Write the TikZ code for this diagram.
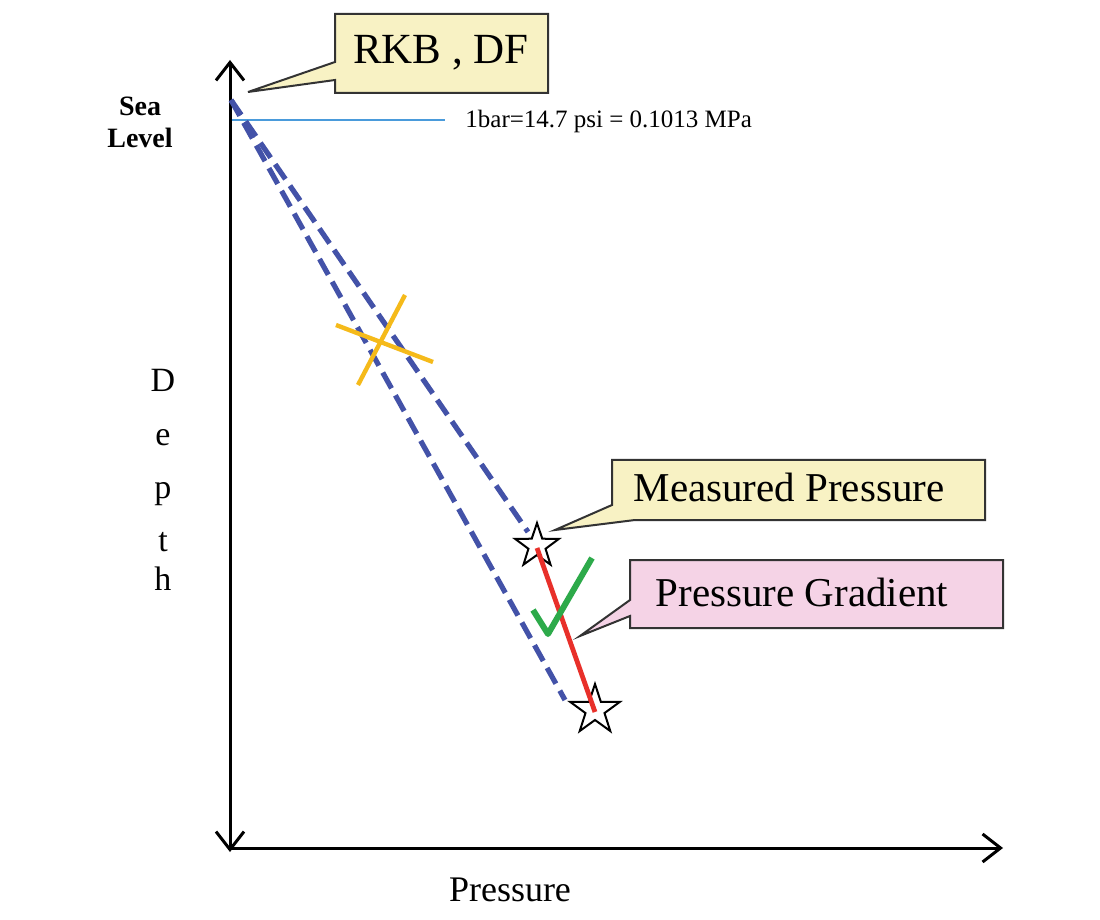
\documentclass[tikz,border=0pt]{standalone}
\usepackage{fontspec}
\setmainfont{Liberation Serif}
\usetikzlibrary{arrows.meta}
\definecolor{cyel}{HTML}{F8F2C4}
\definecolor{cpink}{HTML}{F5D3E6}
\definecolor{cblue}{HTML}{4352A8}
\definecolor{cthin}{HTML}{4A9BDB}
\definecolor{corange}{HTML}{F5BA1A}
\definecolor{cgreen}{HTML}{2DAA4A}
\definecolor{cred}{HTML}{E8302A}
\tikzset{
  callout/.style={draw=black!80, line width=1pt},
  lbl/.style={inner sep=0pt, anchor=center},
  dashline/.style={cblue, line width=2.6pt, dash pattern=on 9pt off 4pt},
  axis/.style={line width=1.5pt, -{Straight Barb[length=9pt,width=14pt]}},
  startip/.style={draw=black, fill=white, line width=1pt},
}
\begin{document}
\begin{tikzpicture}[x=0.5pt,y=-0.5pt]
\useasboundingbox (0,0) rectangle (1100,920);
\fill[white] (0,0) rectangle (1100,920);
% axes
\coordinate (o) at (230,848);
\coordinate (top) at (230,60);
\coordinate (bot) at (230,852);
\coordinate (xe) at (1003,848);
\draw[line width=1.5pt, {Straight Barb[length=9pt,width=14pt]}-{Straight Barb[length=9pt,width=14pt]}] (top) -- (bot);
\draw[axis] (o) -- (xe);
\node[lbl, font=\bfseries\fontsize{14}{16}\selectfont, align=center] (sea) at (140,122) {Sea\\Level};
% thin line
\coordinate (t1) at (232,120);
\node[lbl, anchor=west, font=\fontsize{12.5}{14}\selectfont] (bar) at (465,121) {1bar=14.7 psi = 0.1013 MPa};
\draw[cthin, line width=1pt] (t1) -- (445,120);
% dashed
\coordinate (s) at (231,100);
\coordinate (e1) at (528,532);
\coordinate (e2) at (565,700);
\draw[dashline] (s) -- (e1);
\draw[dashline] (s) -- (e2);
% cross
\draw[corange, line width=2.2pt] (405,295) -- (358,385);
\draw[corange, line width=2.2pt] (336,325) -- (433,362);
% stars
\draw[startip] plot[samples=11, domain=0:10, variable=\k] ({537+ (mod(\k,2)==0 ? 23 : 9)*cos(90+36*\k)}, {546 - (mod(\k,2)==0 ? 23 : 9)*sin(90+36*\k)}) -- cycle;
\draw[startip] plot[samples=11, domain=0:10, variable=\k] ({595+ (mod(\k,2)==0 ? 26 : 10)*cos(90+36*\k)}, {710 - (mod(\k,2)==0 ? 26 : 10)*sin(90+36*\k)}) -- cycle;
% red
\coordinate (st1) at (537,548);
\coordinate (st2) at (595,712);
\draw[cred, line width=2.4pt] (st1) -- (st2);
% green check
\draw[cgreen, line width=3pt, line join=round] (533,610) -- (548,634) -- (592,558);
% callouts
\filldraw[callout, fill=cyel] (335,14) -- (548,14) -- (548,93) -- (335,93) -- (335,80) -- (248,92) -- (335,62) -- cycle;
\node[lbl, font=\fontsize{21.5}{24}\selectfont] (rkb) at (441,53) {RKB , DF};
\filldraw[callout, fill=cyel] (612,460) -- (985,460) -- (985,520) -- (635,520) -- (555,530) -- (612,505) -- cycle;
\node[lbl, font=\fontsize{20.5}{22}\selectfont] (mp) at (789,487) {Measured Pressure};
\filldraw[callout, fill=cpink] (630,560) -- (1003,560) -- (1003,628) -- (630,628) -- (630,616) -- (580,636) -- (630,600) -- cycle;
\node[lbl, font=\fontsize{20.5}{22}\selectfont] (pg) at (802,592) {Pressure Gradient};
% depth
\foreach \ch/\yy in {D/380,e/433,p/487,t/540,h/578}{
  \node[lbl, font=\fontsize{17}{19}\selectfont, anchor=base] at (163,\yy+12) {\ch};
}
\node[lbl, font=\fontsize{18}{20}\selectfont] (pres) at (510,890) {Pressure};
\end{tikzpicture}
\end{document}
